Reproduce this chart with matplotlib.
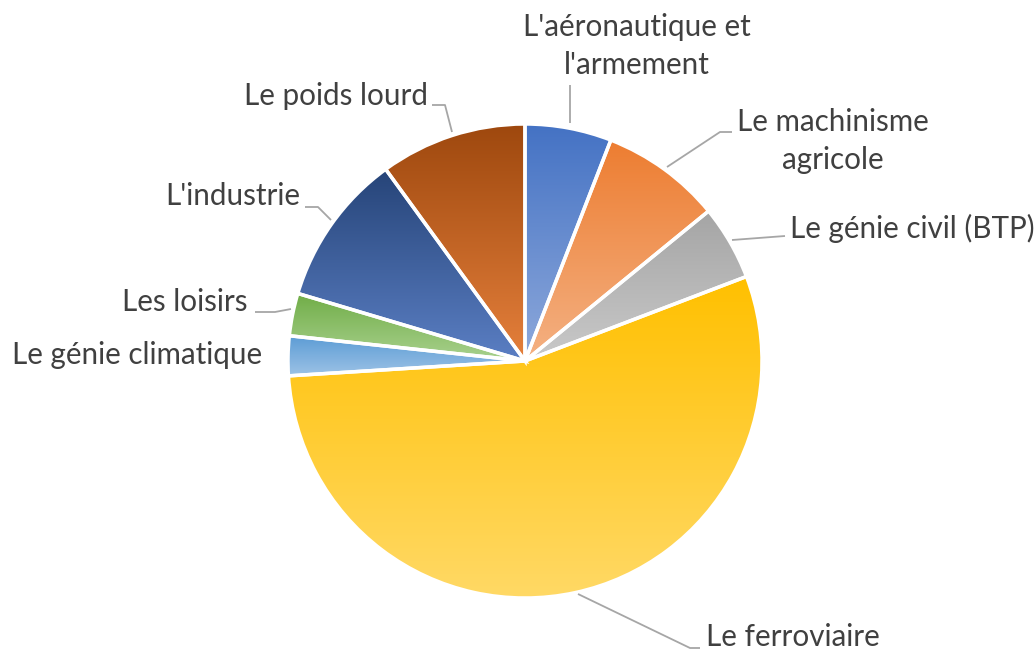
import numpy as np
import matplotlib
matplotlib.use("Agg")
import matplotlib.pyplot as plt
from matplotlib.colors import LinearSegmentedColormap

plt.rcParams['font.family'] = ['Lato', 'DejaVu Sans']

categories = ["L'aéronautique et\nl'armement", "Le machinisme\nagricole", "Le génie civil (BTP)",
              "Le ferroviaire", "Le génie climatique", "Les loisirs", "L'industrie", "Le poids lourd"]
values = [5.9, 8.2, 5.1, 54.8, 2.7, 2.9, 10.4, 10.0]
top_colors = ["#4472C4", "#ED7D31", "#A5A5A5", "#FFC000", "#5B9BD5", "#70AD47", "#264478", "#9E480E"]
bottom_colors = ["#8EA9DB", "#F4B183", "#C9C9C9", "#FFD966", "#9DC3E6", "#A9D18E", "#5B7FC4", "#E5803C"]

W, H = 1034, 653
fig = plt.figure(figsize=(W / 100, H / 100), dpi=100)
ax = fig.add_axes([0, 0, 1, 1])

cx, cy, r = 525, H - 361, 237
wedges, _ = ax.pie(values, center=(cx, cy), radius=r, startangle=90, counterclock=False,
                   wedgeprops=dict(edgecolor='white', linewidth=2.5))

grad = np.linspace(0, 1, 256).reshape(-1, 1)
for w, c0, c1 in zip(wedges, top_colors, bottom_colors):
    cmap = LinearSegmentedColormap.from_list('g', [c0, c1])
    w.set_facecolor('none')
    path = w.get_path()
    verts = w.get_transform().transform(path.vertices)
    verts = ax.transData.inverted().transform(verts)
    x0, x1 = verts[:, 0].min(), verts[:, 0].max()
    y0, y1 = verts[:, 1].min(), verts[:, 1].max()
    im = ax.imshow(grad, cmap=cmap, extent=[x0, x1, y0, y1], origin='upper',
                   aspect='auto', zorder=0.5, interpolation='bilinear')
    im.set_clip_path(w)
    w.set_zorder(1)

ax.set_xlim(0, W)
ax.set_ylim(0, H)
ax.set_aspect('equal')
ax.set_axis_off()

tc = '#404040'
lc = '#A6A6A6'
fs = 21.3

def lab(x, y, s, ha='center'):
    ax.text(x, H - y, s, ha=ha, va='center', fontsize=fs, color=tc, linespacing=1.42)

def leader(pts):
    xs = [p[0] for p in pts]
    ys = [H - p[1] for p in pts]
    ax.plot(xs, ys, color=lc, lw=1.3, solid_capstyle='butt', zorder=2)

lab(637, 46, categories[0])
leader([(570, 85), (570, 123)])
lab(833, 141, categories[1])
leader([(732, 132), (720, 132), (667, 167)])
lab(790, 228, categories[2], ha='left')
leader([(785, 236), (732, 240)])
lab(706, 637, categories[3], ha='left')
leader([(700, 648), (690, 648), (578, 594)])
lab(262, 355, categories[4], ha='right')
lab(248, 302, categories[5], ha='right')
leader([(255, 312), (275, 312), (291, 309)])
lab(300, 196, categories[6], ha='right')
leader([(305, 207), (318, 207), (331, 220)])
lab(428, 96, categories[7], ha='right')
leader([(432, 105), (445, 105), (452, 132)])

fig.savefig('out.png', dpi=100, facecolor='white')
